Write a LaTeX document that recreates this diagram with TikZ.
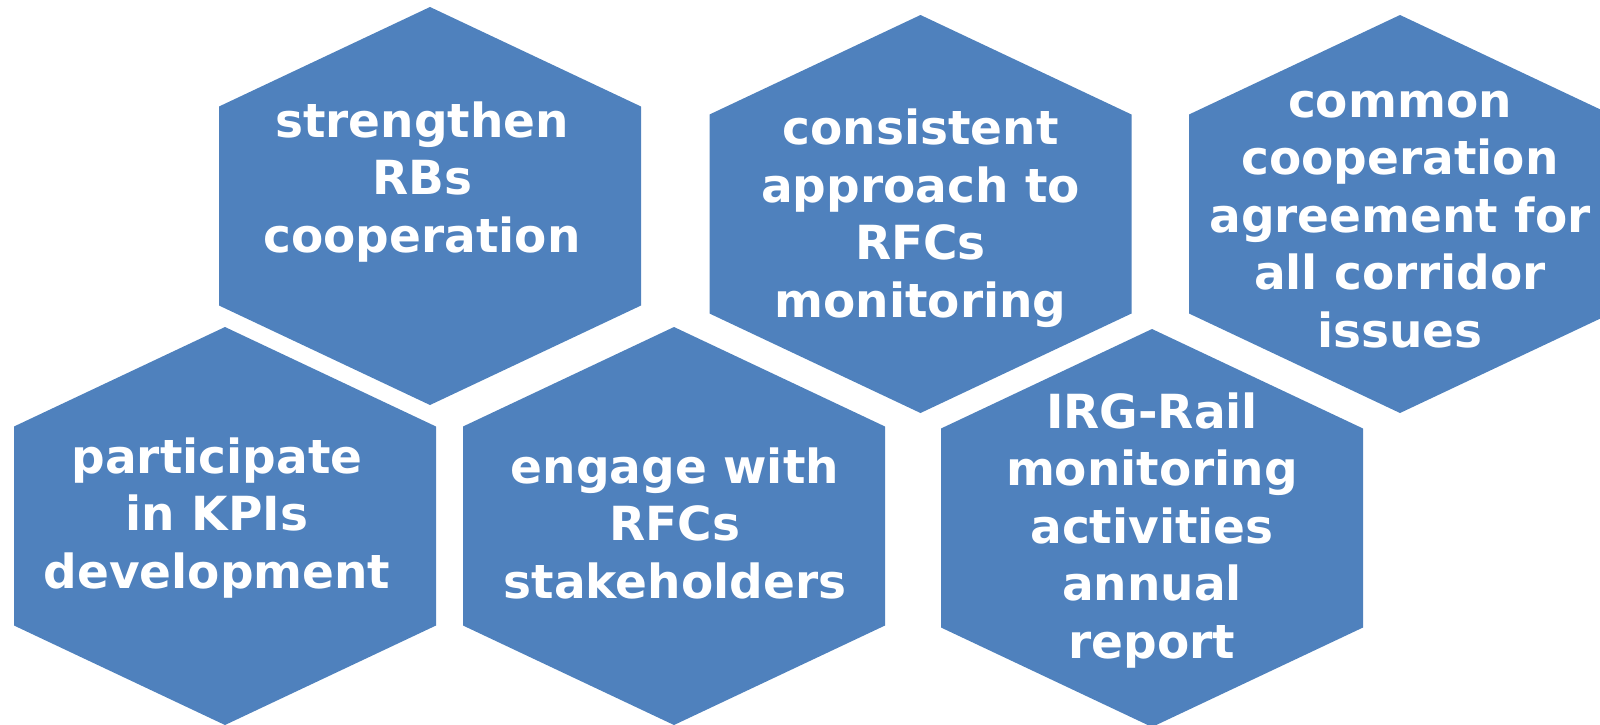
\documentclass[tikz,border=0pt]{standalone}
\usepackage{fontspec}
\setmainfont{DejaVu Sans}
\definecolor{cellblue}{RGB}{79,129,189}
\begin{document}
\begin{tikzpicture}[x=1pt,y=-1pt,
	hexcell/.style={fill=cellblue},
	celltext/.style={text=white, align=center, inner sep=0pt, anchor=base,
		font=\bfseries\fontsize{47}{57.5}\selectfont}]
	
	\useasboundingbox (0,0) rectangle (1600,724);
	
	% upper row
	\fill [hexcell] (430,7) -- ++(211,99.5) -- ++(0,199) -- ++(-211,99.5) -- ++(-211,-99.5) -- ++(0,-199) -- cycle;
	\node [celltext] (strengthen) at (422,252) {strengthen\\RBs\\cooperation};
	
	\fill [hexcell] (920.5,15) -- ++(211,99.5) -- ++(0,199) -- ++(-211,99.5) -- ++(-211,-99.5) -- ++(0,-199) -- cycle;
	\node [celltext] (consistent) at (920.5,317) {consistent\\approach to\\RFCs\\monitoring};
	
	\fill [hexcell] (1400,15) -- ++(211,99.5) -- ++(0,199) -- ++(-211,99.5) -- ++(-211,-99.5) -- ++(0,-199) -- cycle;
	\node [celltext] (common) at (1400,347) {common\\cooperation\\agreement for\\all corridor\\issues};
	
	% lower row
	\fill [hexcell] (225,327) -- ++(211,99.5) -- ++(0,199) -- ++(-211,99.5) -- ++(-211,-99.5) -- ++(0,-199) -- cycle;
	\node [celltext] (participate) at (217,588) {participate\\in KPIs\\development};
	
	\fill [hexcell] (674,327) -- ++(211,99.5) -- ++(0,199) -- ++(-211,99.5) -- ++(-211,-99.5) -- ++(0,-199) -- cycle;
	\node [celltext] (engage) at (675,598) {engage with\\RFCs\\stakeholders};
	
	\fill [hexcell] (1152,329) -- ++(211,99.5) -- ++(0,199) -- ++(-211,99.5) -- ++(-211,-99.5) -- ++(0,-199) -- cycle;
	\node [celltext] (irgrail) at (1152,658) {IRG-Rail\\monitoring\\activities\\annual\\report};
	
\end{tikzpicture}
\end{document}
